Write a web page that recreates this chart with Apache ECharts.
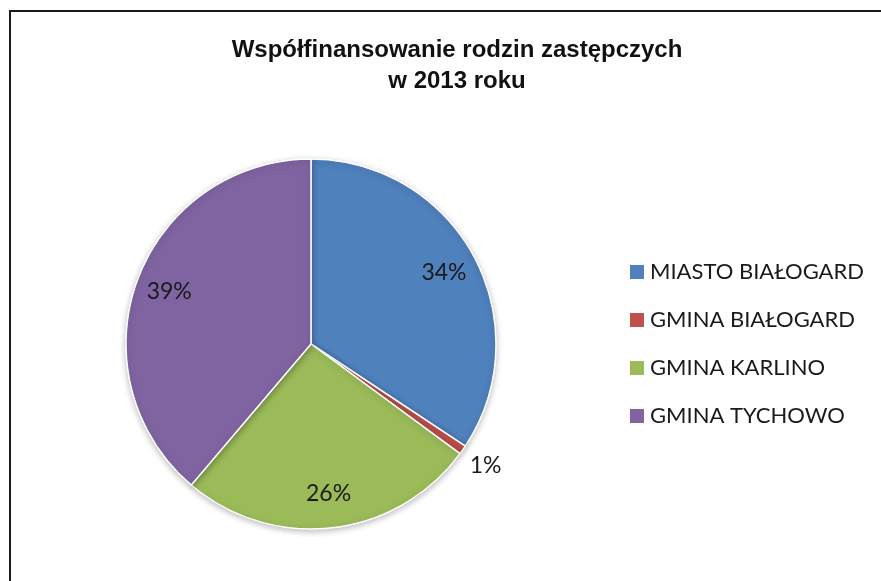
<!DOCTYPE html>
<html>
<head>
<meta charset="utf-8">
<script src="https://cdn.jsdelivr.net/npm/echarts@6/dist/echarts.min.js"></script>
<style>
html,body{margin:0;padding:0;background:#fff;}
#chart{width:881px;height:581px;}
</style>
</head>
<body>
<div id="chart"></div>
<script>
const titleLines = ['Współfinansowanie rodzin zastępczych', 'w 2013 roku'];
const categories = ['MIASTO BIAŁOGARD', 'GMINA BIAŁOGARD', 'GMINA KARLINO', 'GMINA TYCHOWO'];
const values = [34.3, 0.8, 26.1, 38.8];
const colors = ['#4F81BD', '#C0504D', '#9BBB59', '#8064A2'];
const outsideLabelIdx = [1];

const chart = echarts.init(document.getElementById('chart'));
const center = [311, 344];
const R = 185;
const pct = p => Math.round(p.percent) + '%';
const labelFont = {fontFamily: 'Lato', fontSize: 23, color: '#1a1a1a'};

const mainData = categories.map((c, i) => ({name: c, value: values[i], itemStyle: {color: colors[i]}}));
const insideData = categories.map((c, i) => ({name: c, value: values[i],
  label: {show: outsideLabelIdx.indexOf(i) < 0}}));
const outsideData = categories.map((c, i) => ({name: c, value: values[i],
  label: {show: outsideLabelIdx.indexOf(i) >= 0}}));

chart.setOption({
  animation: false,
  title: {
    text: titleLines.join('\n'),
    left: 452, top: 30, textAlign: 'center',
    textStyle: {fontFamily: 'Liberation Sans', fontWeight: 'bold', fontSize: 24, lineHeight: 31, color: '#111'}
  },
  legend: {
    orient: 'vertical', left: 623, top: 256,
    itemWidth: 16, itemHeight: 16, itemGap: 26, icon: 'rect',
    data: categories,
    textStyle: {fontFamily: 'Lato', fontSize: 22, color: '#1a1a1a'}
  },
  graphic: [
    {type: 'polyline', shape: {points: [[10, 600], [10, 11], [900, 11]]},
     style: {stroke: '#1a1a1a', lineWidth: 2, fill: null}, silent: true}
  ],
  series: [
    {
      type: 'pie', center: center, radius: [0, R], startAngle: 90, clockwise: true,
      label: {show: false}, labelLine: {show: false},
      itemStyle: {borderColor: '#fff', borderWidth: 1.5, shadowBlur: 6, shadowColor: 'rgba(0,0,0,0.25)', shadowOffsetY: 2},
      emphasis: {disabled: true},
      data: mainData
    },
    {
      type: 'pie', center: center, radius: [R * 0.6, R], startAngle: 90, clockwise: true, silent: true,
      itemStyle: {color: 'rgba(0,0,0,0)'},
      label: Object.assign({position: 'inside', formatter: pct}, labelFont),
      labelLine: {show: false}, emphasis: {disabled: true},
      data: insideData
    },
    {
      type: 'pie', center: center, radius: [R + 8, R + 42], startAngle: 90, clockwise: true, silent: true,
      itemStyle: {color: 'rgba(0,0,0,0)'},
      label: Object.assign({position: 'inside', formatter: pct}, labelFont),
      labelLine: {show: false}, emphasis: {disabled: true},
      data: outsideData
    }
  ]
});
</script>
</body>
</html>
